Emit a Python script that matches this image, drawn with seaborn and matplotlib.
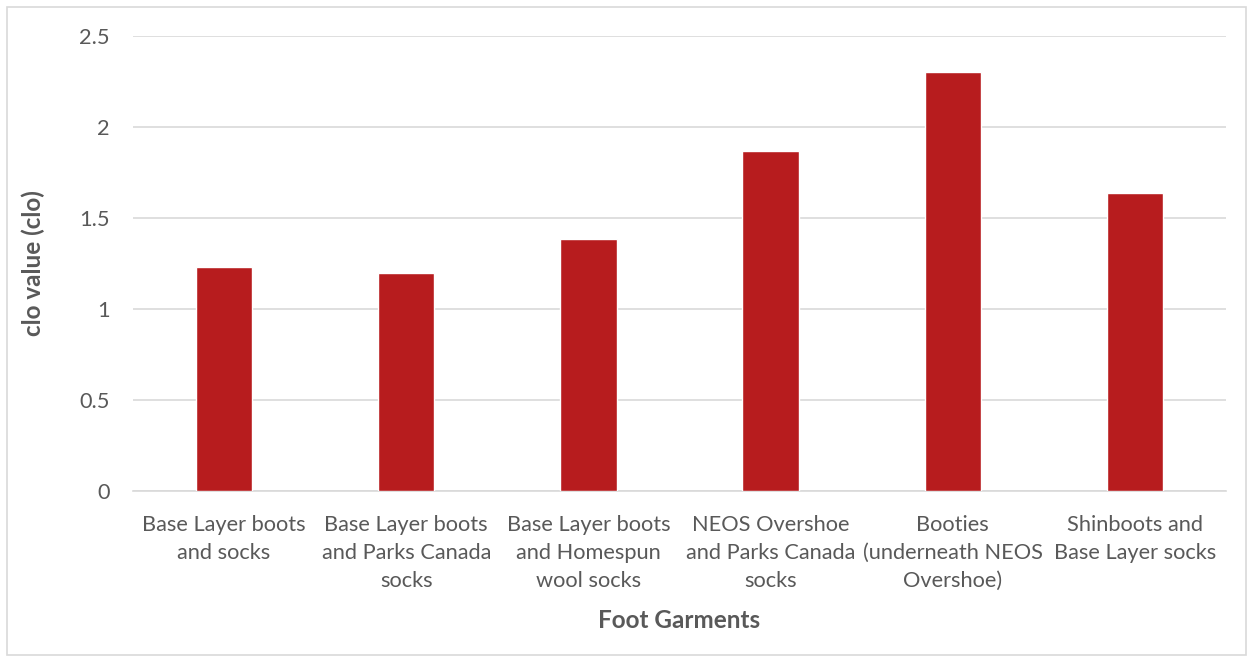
import matplotlib
matplotlib.use("Agg")
import matplotlib.pyplot as plt
import seaborn as sns
import pandas as pd

categories = [
    "Base Layer boots\nand socks",
    "Base Layer boots\nand Parks Canada\nsocks",
    "Base Layer boots\nand Homespun\nwool socks",
    "NEOS Overshoe\nand Parks Canada\nsocks",
    "Booties\n(underneath NEOS\nOvershoe)",
    "Shinboots and\nBase Layer socks",
]
clo_values = [1.23, 1.20, 1.385, 1.87, 2.30, 1.635]
y_ticks = [0, 0.5, 1, 1.5, 2, 2.5]
y_tick_labels = ["0", "0.5", "1", "1.5", "2", "2.5"]

sns.set_theme(style="white")
plt.rcParams["font.family"] = ["Lato", "DejaVu Sans"]

text_color = "#595959"
grid_color = "#D9D9D9"
bar_color = "#B71C1E"

df = pd.DataFrame({"garment": categories, "clo": clo_values})

fig = plt.figure(figsize=(12.53, 6.62), dpi=100)
ax = fig.add_axes([133 / 1253, 1 - 491 / 662, (1226 - 133) / 1253, (491 - 36) / 662])

sns.barplot(data=df, x="garment", y="clo", color=bar_color, saturation=1,
            width=0.31, ax=ax, zorder=3)

ax.set_ylim(0, 2.5)
ax.set_xlim(-0.5, len(categories) - 0.5)
ax.set_yticks(y_ticks)
ax.set_yticklabels(y_tick_labels)
ax.yaxis.grid(True, color=grid_color, linewidth=1.2, zorder=0)
ax.set_axisbelow(True)
for side in ["top", "right", "left"]:
    ax.spines[side].set_visible(False)
ax.spines["bottom"].set_color(grid_color)
ax.spines["bottom"].set_linewidth(1.2)
ax.tick_params(axis="both", length=0, labelsize=15.7, colors=text_color)
ax.tick_params(axis="y", pad=16.5)
ax.tick_params(axis="x", pad=17.5)
for lbl in ax.get_xticklabels():
    lbl.set_linespacing(1.5)

ax.set_xlabel("Foot Garments", fontsize=17.5, fontweight="bold", color=text_color, va="center")
ax.set_ylabel("clo value (clo)", fontsize=17.5, fontweight="bold", color=text_color, va="center")
ax.xaxis.set_label_coords(0.5, (491 - 620) / 455)
ax.yaxis.set_label_coords((33 - 133) / 1093, 0.5)

# thin frame round the whole chart
fig.patches.append(plt.Rectangle((7 / 1253, 7 / 662), 1 - 14 / 1253, 1 - 14 / 662,
                                 transform=fig.transFigure, fill=False,
                                 edgecolor=grid_color, linewidth=1.2))

fig.savefig("out.png", dpi=100, facecolor="white")
